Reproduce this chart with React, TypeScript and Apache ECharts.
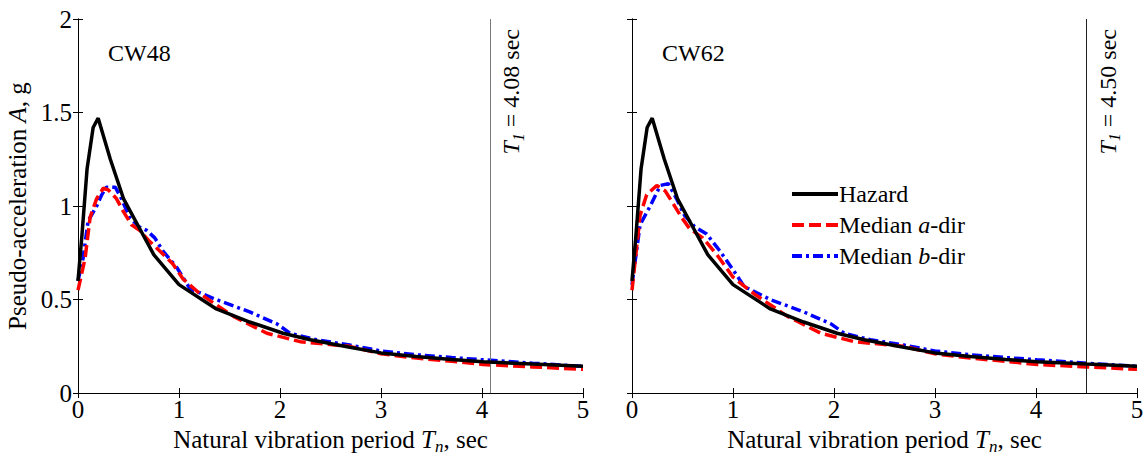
import { useEffect, useRef } from "react";
import * as echarts from "echarts";

const FONT = "Liberation Serif";

// Hazard spectrum (same in both panels)
const hazardT = [0, 0.04, 0.09, 0.15, 0.2, 0.32, 0.45, 0.61, 0.75, 1.0, 1.37, 1.7, 2.03, 2.3, 2.69, 3.0, 3.35, 3.7, 4.01, 4.5, 5];
const hazardA = [0.6, 0.85, 1.2, 1.42, 1.47, 1.25, 1.04, 0.88, 0.74, 0.58, 0.45, 0.38, 0.32, 0.285, 0.245, 0.215, 0.196, 0.18, 0.168, 0.155, 0.143];

// CW48 medians
const cw48aT = [0, 0.07, 0.12, 0.185, 0.25, 0.3, 0.38, 0.45, 0.53, 0.61, 0.71, 0.81, 0.94, 1.04, 1.21, 1.54, 1.87, 2.2, 2.69, 3.0, 3.35, 3.7, 4.01, 4.5, 5];
const cw48aA = [0.55, 0.72, 0.94, 1.04, 1.095, 1.086, 1.04, 0.97, 0.9, 0.87, 0.81, 0.76, 0.69, 0.61, 0.53, 0.41, 0.32, 0.275, 0.25, 0.21, 0.187, 0.17, 0.153, 0.14, 0.127];
const cw48bT = [0, 0.05, 0.1, 0.185, 0.235, 0.28, 0.37, 0.43, 0.51, 0.6, 0.68, 0.76, 0.84, 0.98, 1.11, 1.37, 1.7, 1.97, 2.1, 2.36, 2.69, 3.0, 3.35, 3.7, 4.01, 4.5, 5];
const cw48bA = [0.6, 0.72, 0.92, 1.0, 1.06, 1.1, 1.1, 1.04, 0.94, 0.89, 0.87, 0.83, 0.76, 0.67, 0.557, 0.5, 0.434, 0.37, 0.32, 0.285, 0.257, 0.225, 0.205, 0.19, 0.178, 0.16, 0.143];

// CW62 medians
const cw62aT = [0, 0.08, 0.145, 0.245, 0.33, 0.41, 0.49, 0.57, 0.7, 0.84, 1.0, 1.21, 1.54, 1.87, 2.2, 2.69, 3.0, 3.35, 3.7, 4.01, 4.5, 5];
const cw62aA = [0.55, 0.95, 1.06, 1.11, 1.08, 1.01, 0.94, 0.88, 0.83, 0.74, 0.62, 0.53, 0.41, 0.32, 0.275, 0.25, 0.21, 0.187, 0.17, 0.153, 0.14, 0.127];
const cw62bT = [0, 0.08, 0.18, 0.28, 0.36, 0.44, 0.52, 0.62, 0.74, 0.87, 1.0, 1.11, 1.37, 1.7, 1.97, 2.1, 2.36, 2.69, 3.0, 3.35, 3.7, 4.01, 4.5, 5];
const cw62bA = [0.58, 0.9, 1.0, 1.11, 1.12, 1.04, 0.95, 0.89, 0.85, 0.76, 0.66, 0.57, 0.5, 0.434, 0.37, 0.32, 0.285, 0.257, 0.225, 0.205, 0.19, 0.178, 0.16, 0.143];

const panelNames = ["CW48", "CW62"];
const firstModePeriods = [4.08, 4.5];
const firstModeLabels = ["4.08", "4.50"];
const firstModeColors = ["#7a7a7a", "#222222"];
const seriesNames = ["Hazard", "Median a-dir", "Median b-dir"];

const zip = (xs: number[], ys: number[]) => xs.map((x, i) => [x, ys[i]]);

export default function App() {
  const ref = useRef<HTMLDivElement>(null);
  useEffect(() => {
    if (!ref.current) return;
    const chart = echarts.init(ref.current, null, { renderer: "svg" });
    const grids = [
      { left: 78, top: 19, width: 505, height: 378 },
      { left: 632, top: 19, width: 505, height: 378 },
    ];
    const axisLine = { show: true, lineStyle: { color: "#000", width: 1 } };
    const tick = { show: true, inside: true, length: 5, lineStyle: { color: "#000" } };
    const labelStyle = { color: "#000", fontFamily: FONT, fontSize: 25 };
    const txt = (size: number, italic = false) => ({
      fontFamily: FONT, fontSize: size, color: "#000", fontStyle: italic ? "italic" : "normal",
    });
    const xAxes: any[] = [];
    const yAxes: any[] = [];
    grids.forEach((_, g) => {
      xAxes.push({
        type: "value", gridIndex: g, min: 0, max: 5, interval: 1, position: "bottom",
        axisLine, axisTick: tick, splitLine: { show: false },
        axisLabel: { ...labelStyle, margin: 4 },
        name: "{n|Natural vibration period }{i|T}{s|n}{n|, sec}",
        nameLocation: "middle", nameGap: 28,
        nameTextStyle: {
          ...txt(25),
          rich: {
            n: txt(25),
            i: txt(25, true),
            s: { ...txt(17, true), padding: [14, 0, 0, 0] },
          },
        },
      });
      xAxes.push({
        type: "value", gridIndex: g, min: 0, max: 5, interval: 1, position: "top",
        axisLine, axisTick: tick, splitLine: { show: false }, axisLabel: { show: false },
      });
      yAxes.push({
        type: "value", gridIndex: g, min: 0, max: 2, interval: 0.5, position: "left",
        axisLine, axisTick: tick, splitLine: { show: false },
        axisLabel: { ...labelStyle, margin: 6, show: g === 0 },
        name: g === 0 ? "{n|Pseudo-acceleration }{i|A}{n|, g}" : "",
        nameLocation: "middle", nameGap: 48, nameRotate: 90,
        nameTextStyle: {
          ...txt(25),
          rich: { n: txt(25), i: txt(25, true) },
        },
      });
      yAxes.push({
        type: "value", gridIndex: g, min: 0, max: 2, interval: 0.5, position: "right",
        axisLine, axisTick: tick, splitLine: { show: false }, axisLabel: { show: false },
      });
    });

    const panelData = [
      [zip(hazardT, hazardA), zip(cw48aT, cw48aA), zip(cw48bT, cw48bA)],
      [zip(hazardT, hazardA), zip(cw62aT, cw62aA), zip(cw62bT, cw62bA)],
    ];
    const styles = [
      { color: "#000000", type: "solid" },
      { color: "#ff0000", type: [12, 5] },
      { color: "#0000ff", type: [10, 4, 3, 4] },
    ];
    const series: any[] = [];
    panelData.forEach((sets, g) => {
      sets.forEach((d, k) => {
        const s: any = {
          type: "line", name: seriesNames[k], xAxisIndex: g * 2, yAxisIndex: g * 2,
          data: d, symbol: "none", smooth: false, z: 5 - k,
          lineStyle: { color: styles[k].color, width: 3.5, type: styles[k].type },
          itemStyle: { color: styles[k].color },
        };
        if (k === 0) {
          s.markLine = {
            silent: true, symbol: ["none", "none"],
            lineStyle: { color: firstModeColors[g], width: 1, type: "solid" },
            data: [{ xAxis: firstModePeriods[g] }],
            label: {
              show: true, position: "insideEndBottom", distance: [10, 6],
              formatter: `{i|T}{s|1}{n| = ${firstModeLabels[g]} sec}`,
              rich: {
                n: txt(24),
                i: txt(24, true),
                s: { ...txt(16, true), padding: [14, 0, 0, 0] },
              },
            },
          };
        }
        series.push(s);
      });
    });

    chart.setOption({
      animation: false,
      backgroundColor: "#fff",
      grid: grids,
      xAxis: xAxes,
      yAxis: yAxes,
      legend: {
        left: 785, top: 177, orient: "vertical", itemGap: 7, itemWidth: 46, itemHeight: 14,
        data: seriesNames,
        itemStyle: { color: "rgba(0,0,0,0)", borderWidth: 0, opacity: 0 },
        lineStyle: { width: 4 },
        formatter: (name: string) =>
          name === "Hazard" ? "{n|Hazard}" : name === "Median a-dir" ? "{n|Median }{i|a}{n|-dir}" : "{n|Median }{i|b}{n|-dir}",
        textStyle: { ...txt(24), padding: [0, 0, 0, -4], rich: { n: txt(24), i: txt(24, true) } },
      },
      graphic: panelNames.map((t, g) => ({
        type: "text", left: grids[g].left + 30, top: 41,
        style: { text: t, fontFamily: FONT, fontSize: 24, fill: "#000" },
      })),
      series,
    });
    return () => chart.dispose();
  }, []);
  return <div ref={ref} style={{ position: "fixed", left: 0, top: 0, width: 1148, height: 460 }} />;
}
